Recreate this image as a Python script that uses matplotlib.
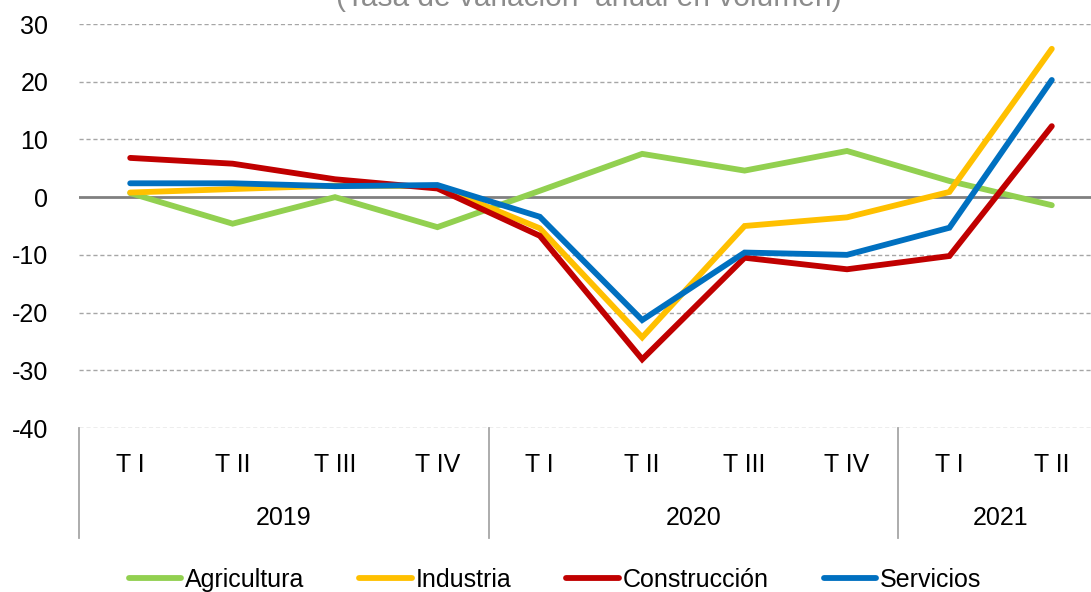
import matplotlib
matplotlib.use("Agg")
import matplotlib.pyplot as plt
import matplotlib.transforms as mtransforms

plt.rcParams['font.family'] = ['Liberation Sans', 'DejaVu Sans']
plt.rcParams['axes.unicode_minus'] = False

quarters = ['T I', 'T II', 'T III', 'T IV', 'T I', 'T II', 'T III', 'T IV', 'T I', 'T II']
years = ['2019', '2020', '2021']
year_centers = [1.5, 5.5, 8.5]
year_breaks = [-0.5, 3.5, 7.5]

agricultura = [0.7, -4.6, 0.0, -5.2, 1.1, 7.5, 4.6, 8.0, 2.8, -1.4]
industria = [0.8, 1.4, 2.0, 1.9, -5.4, -24.3, -5.0, -3.5, 0.9, 25.7]
construccion = [6.8, 5.8, 3.1, 1.5, -6.7, -28.1, -10.5, -12.5, -10.2, 12.3]
servicios = [2.4, 2.4, 1.9, 2.1, -3.4, -21.3, -9.6, -10.0, -5.3, 20.3]

series = [
    ('Agricultura', agricultura, '#92D050'),
    ('Industria', industria, '#FFC000'),
    ('Construcción', construccion, '#C00000'),
    ('Servicios', servicios, '#0070C0'),
]

fig = plt.figure(figsize=(10.91, 5.92), dpi=100)
ax = fig.add_axes([79 / 1091, 1 - 428 / 592, 1024 / 1091, 404 / 592])

x = list(range(len(quarters)))
for name, vals, col in series:
    ax.plot(x, vals, color=col, lw=4.2, label=name, solid_capstyle='round',
            solid_joinstyle='miter')

ax.set_xlim(-0.5, 9.5)
ax.set_ylim(-40, 30)
ax.set_yticks(range(-40, 31, 10))
for v in range(-40, 31, 10):
    if v == 0:
        ax.axhline(v, color='#808080', lw=2, zorder=0)
    else:
        ax.axhline(v, color='#A6A6A6', lw=1, ls=(0, (3, 2)), zorder=0)

for s in ax.spines.values():
    s.set_visible(False)
ax.set_xticks([])
ax.tick_params(axis='y', length=0, pad=22, labelsize=18)

trans = mtransforms.blended_transform_factory(ax.transData, ax.transAxes)
for xb in year_breaks:
    ax.plot([xb, xb], [0, -110 / 404], color='#A6A6A6', lw=1.3,
            transform=trans, clip_on=False)
for i, q in enumerate(quarters):
    ax.text(i, -37 / 404, q, transform=trans, ha='center', va='center',
            fontsize=18)
for xc, yr in zip(year_centers, years):
    ax.text(xc, -90 / 404, yr, transform=trans, ha='center', va='center',
            fontsize=18)

# title sits partly above the top edge, as in the source image
fig.text(589 / 1091, 1 - 6 / 592, '(Tasa de variación  anual en volumen)',
         ha='center', va='baseline', fontsize=21.5, color='#8C8C8C')

fig.legend(loc='center', bbox_to_anchor=(555 / 1091, 1 - 580 / 592), ncol=4,
           frameon=False, fontsize=18, handlelength=2.1, handletextpad=0.15,
           columnspacing=2.2)

fig.savefig('out.png', dpi=100)
